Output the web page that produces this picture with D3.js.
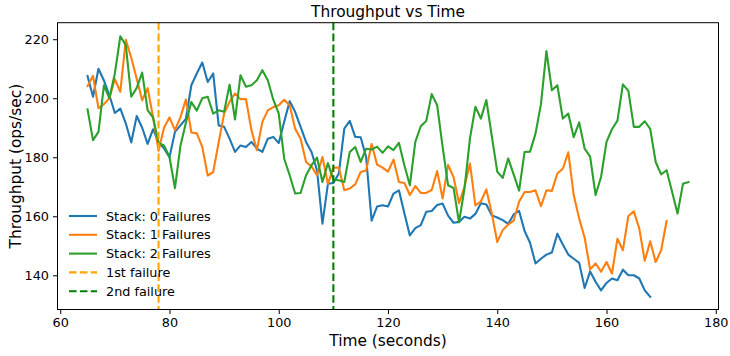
<!DOCTYPE html>
<html>
<head>
<meta charset="utf-8">
<script src="https://cdn.jsdelivr.net/npm/d3@7"></script>
<style>
  body { margin: 0; background: #fff; }
  svg { display: block; font-family: "DejaVu Sans", sans-serif; }
</style>
</head>
<body>
<svg width="730" height="356"></svg>
<script>
/* -------------------------- Data -------------------------- */
// one sample per second, each series starts at t = 65s
var start_time = 65;

var stack0 = [
  207.5, 200.5, 210, 206, 201, 195, 196.5, 191.5, 185, 194,
  190, 184.5, 189.5, 185, 183, 180, 188.6, 190.8, 193, 204.4,
  208.4, 212.1, 205.5, 208.4, 190.8, 190.3, 186.3, 181.8, 184, 183.5,
  185.2, 182.9, 181.8, 186.3, 186.9, 184.8, 192, 199, 195.4, 190.3,
  185.2, 181.8, 175.6, 157.5, 171, 171.3, 174.5, 189.7, 192.3, 186.9,
  186.8, 180, 158.5, 163.3, 163.7, 163.3, 167.7, 168.8, 161, 153.5,
  156, 157, 161.5, 161.8, 163.8, 164.3, 160.2, 157.8, 158.1, 159.8,
  159.2, 160.8, 164.4, 164, 160.3, 159.6, 158.7, 157.4, 160.6, 161.8,
  155, 151, 144, 145.6, 147, 147.7, 154.1, 150.4, 147, 145.6,
  144.2, 135.7, 141.3, 137.8, 134.9, 137.4, 138.9, 138.3, 141.9, 140,
  140, 138.9, 134.9, 132.7
];

var stack1 = [
  204.1, 207.6, 196.6, 198, 200, 206.5, 202.2, 219.8, 213.7, 206.6,
  199.3, 203.4, 193.5, 182.2, 190, 193.5, 189.2, 193.5, 199.6, 188.4,
  188.1, 183.5, 173.8, 175, 185, 194.8, 198.8, 201.6, 199.7, 199.7,
  189.2, 182.4, 192, 195.9, 197, 197.6, 199.5, 197.6, 189.7, 186.3,
  178.4, 176.9, 173.9, 180.1, 171, 176.5, 176.5, 168.8, 169.4, 170.8,
  175, 175.5, 184.5, 177.5, 176.5, 175.1, 179.2, 171.6, 171.3, 167.2,
  170.2, 167.9, 167.9, 168.9, 175.3, 166, 177.4, 173.3, 164.4, 170,
  177.9, 163.7, 165, 169.1, 161, 151.3, 155.3, 157.2, 158.5, 164.9,
  168.2, 168.2, 168.8, 163.4, 168.8, 168.6, 174.5, 176.1, 181.7, 167.1,
  159.2, 152.7, 142, 144, 141.2, 144.5, 140.6, 152.4, 148.5, 160.1,
  161.7, 155.8, 144.9, 151.5, 144.5, 148.5, 158.4
];

var stack2 = [
  196.2, 185.8, 188.6, 204.4, 200, 208.4, 221, 218, 200.5, 203.5,
  208.7, 196, 193.4, 184.8, 184, 180.1, 169.5, 183.8, 191.7, 198.7,
  195.8, 200, 200.5, 194.8, 195.9, 195.4, 204.6, 192.8, 207.8, 203.9,
  204.4, 206.1, 209.5, 206.1, 199.5, 194.8, 179.5, 173.9, 167.7, 167.9,
  173.9, 177.3, 179.9, 171.6, 178, 172.4, 172.2, 171.6, 181.8, 183.5,
  178.4, 182.9, 182.6, 183.6, 181.5, 183.7, 182.4, 184.9, 177.3, 170.5,
  185.2, 190.5, 192.3, 201.4, 197.6, 183.5, 170.5, 169.6, 157.9, 169.4,
  186.3, 197.1, 193.1, 199.4, 187.2, 175.1, 173, 179.6, 174.2, 168.7,
  181.8, 181.9, 188, 198, 216, 202.7, 204.4, 193.1, 194.8, 186.8,
  191.8, 182.9, 180.2, 167.2, 173.3, 185.2, 189.5, 192.4, 204.7, 202.5,
  190.3, 190.3, 192.2, 189.6, 178.4, 174.2, 175.6, 168.3, 160.9, 171,
  171.6
];

var series_names = ['Stack: 0 Failures', 'Stack: 1 Failures', 'Stack: 2 Failures'];
var series_colors = ['#1f77b4', '#ff7f0e', '#2ca02c'];

var failure_times = [78, 110];
var failure_names = ['1st failure', '2nd failure'];
var failure_colors = ['orange', 'green'];

var x_ticks = [60, 80, 100, 120, 140, 160, 180];
var y_ticks = [140, 160, 180, 200, 220];

/* -------------------------- Setup -------------------------- */
var config = {
  left : 57.5,
  right : 718.5,
  top : 22.7,
  bottom : 309.5,
  tick_font : 12.8,
  label_font : 15.4
};

var svg = d3.select('svg');

var xScale = d3.scaleLinear()
  .domain([59.5, 180.5])
  .range([config.left, config.right]);

var yScale = d3.scaleLinear()
  .domain([128.4, 225.6])
  .range([config.bottom, config.top]);

// x-axis
var xAxis = d3.axisBottom(xScale)
  .tickValues(x_ticks)
  .tickSize(4.5)
  .tickPadding(4);

svg.append('g')
  .attr('class', 'axis')
  .attr('transform', 'translate(0,' + config.bottom + ')')
  .call(xAxis);

// y-axis
var yAxis = d3.axisLeft(yScale)
  .tickValues(y_ticks)
  .tickSize(4.5)
  .tickPadding(4);

svg.append('g')
  .attr('class', 'axis')
  .attr('transform', 'translate(' + config.left + ',0)')
  .call(yAxis);

svg.selectAll('.axis .domain').remove();
svg.selectAll('.axis text')
  .attr('font-family', '"DejaVu Sans", sans-serif')
  .attr('font-size', config.tick_font)
  .attr('fill', '#000');
svg.selectAll('.axis line')
  .attr('stroke', '#000')
  .attr('stroke-width', 1);

/* -------------------------- Lines -------------------------- */
var line = d3.line()
  .x(function (d, i) { return xScale(start_time + i); })
  .y(function (d) { return yScale(d); });

var plot = svg.append('g');

[stack0, stack1, stack2].forEach(function (vals, k) {
  plot.append('path')
    .datum(vals)
    .attr('d', line)
    .attr('fill', 'none')
    .attr('stroke', series_colors[k])
    .attr('stroke-width', 2.1)
    .attr('stroke-linejoin', 'round')
    .attr('stroke-linecap', 'square');
});

// failure markers
failure_times.forEach(function (t, k) {
  plot.append('line')
    .attr('x1', xScale(t))
    .attr('x2', xScale(t))
    .attr('y1', config.top)
    .attr('y2', config.bottom)
    .attr('stroke', failure_colors[k])
    .attr('stroke-width', 2.1)
    .attr('stroke-dasharray', '7.6,3.3');
});

// frame
svg.append('rect')
  .attr('x', config.left)
  .attr('y', config.top)
  .attr('width', config.right - config.left)
  .attr('height', config.bottom - config.top)
  .attr('fill', 'none')
  .attr('stroke', '#000')
  .attr('stroke-width', 1);

/* -------------------------- Legend -------------------------- */
var legend_items = [];
series_names.forEach(function (n, k) {
  legend_items.push({ name : n, color : series_colors[k], dash : null });
});
failure_names.forEach(function (n, k) {
  legend_items.push({ name : n, color : failure_colors[k], dash : '7.6,3.3' });
});

var legend = svg.append('g')
  .attr('transform', 'translate(69,216)');

legend_items.forEach(function (d, i) {
  var row = legend.append('g')
    .attr('transform', 'translate(0,' + (i * 18.8) + ')');
  row.append('line')
    .attr('x1', 0)
    .attr('x2', 28)
    .attr('stroke', d.color)
    .attr('stroke-width', 2.1)
    .attr('stroke-dasharray', d.dash);
  row.append('text')
    .attr('x', 37)
    .attr('y', 4.6)
    .attr('font-size', config.tick_font)
    .text(d.name);
});

/* -------------------------- Labels -------------------------- */
svg.append('text')
  .attr('x', (config.left + config.right) / 2)
  .attr('y', 17)
  .attr('text-anchor', 'middle')
  .attr('font-size', config.label_font)
  .text('Throughput vs Time');

svg.append('text')
  .attr('x', (config.left + config.right) / 2)
  .attr('y', 346)
  .attr('text-anchor', 'middle')
  .attr('font-size', config.label_font)
  .text('Time (seconds)');

svg.append('text')
  .attr('transform', 'translate(21,' + ((config.top + config.bottom) / 2) + ') rotate(-90)')
  .attr('text-anchor', 'middle')
  .attr('font-size', config.label_font)
  .text('Throughput (ops/sec)');
</script>
</body>
</html>
